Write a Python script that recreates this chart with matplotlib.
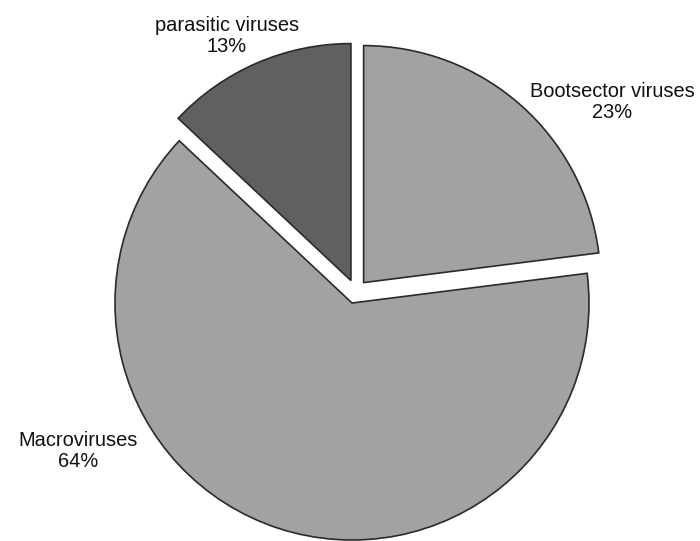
import matplotlib
matplotlib.use("Agg")
import matplotlib.pyplot as plt

categories = ["Bootsector viruses", "Macroviruses", "parasitic viruses"]
values = [23, 64, 13]
pct_labels = ["23%", "64%", "13%"]
colors = ["#a2a2a2", "#a2a2a2", "#606060"]
explode = [12, 12, 12]

# label anchor positions (pixel coords, y from top)
label_pos = [(612, 102), (78, 451), (227, 36)]

W, H = 700, 541
fig = plt.figure(figsize=(W / 100, H / 100), dpi=100)
ax = fig.add_axes([0, 0, 1, 1])
ax.set_xlim(0, W)
ax.set_ylim(0, H)
ax.set_aspect("equal")
ax.axis("off")

cx, cy = 355.7, H - 291.6
ax.pie(values, explode=explode, colors=colors, startangle=90, counterclock=False,
       radius=237, center=(cx, cy), frame=True,
       wedgeprops=dict(edgecolor="#2a2a2a", linewidth=1.2))
ax.set_xlim(0, W)
ax.set_ylim(0, H)
ax.axis("off")

for cat, pct, (px, py) in zip(categories, pct_labels, label_pos):
    ax.text(px, H - py, f"{cat}\n{pct}", ha="center", va="center",
            fontsize=14.4, family="Liberation Sans", color="#111111",
            linespacing=1.15)

fig.savefig("out.png", dpi=100, facecolor="white")
